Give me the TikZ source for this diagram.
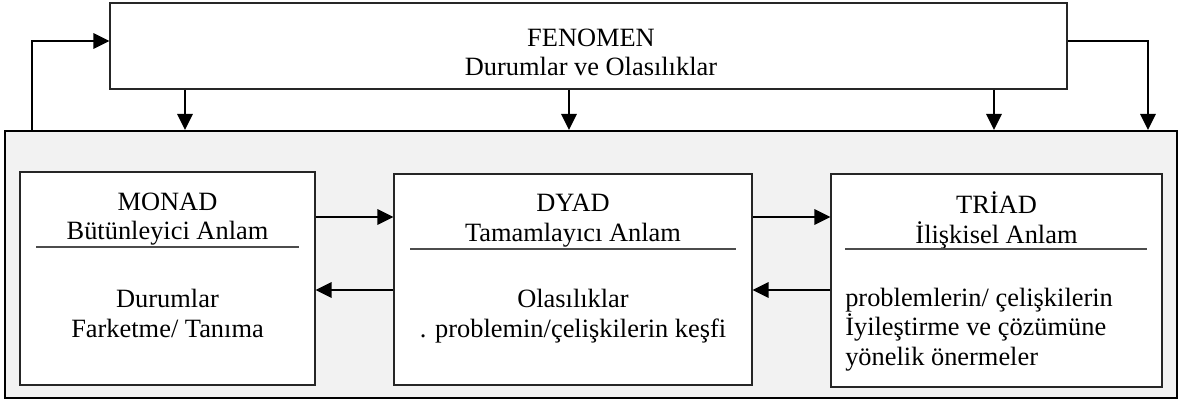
\documentclass[tikz,border=0pt]{standalone}
\usepackage{fontspec}
\setmainfont{Liberation Serif}
\usepackage{tikz}
\usetikzlibrary{arrows.meta,calc,positioning}
\tikzset{%
	outerbox/.style = {draw, line width=1.6pt, fill=panelgray, rectangle, inner sep=0pt},
	block/.style    = {draw=black!85, line width=0.8pt, fill=white, rectangle, inner sep=0pt},
	label/.style    = {inner sep=0pt, align=center, font=\fontsize{19.8}{22}\selectfont},
	seprule/.style  = {draw=black!70, line width=0.8pt}, % Separator
	arrow/.style    = {line width=1.6pt, -{Triangle[length=12pt,width=11.5pt]}},
}
\definecolor{panelgray}{HTML}{F2F2F2}
\begin{document}
\begin{tikzpicture}[x=0.75pt,y=-0.75pt]
	\useasboundingbox (0,0) rectangle (1179,403);
	% boxes
	\node[block, minimum width=717.75pt, minimum height=64.5pt] (fen) at (588.5,46) {};
	\node[outerbox, minimum width=879pt, minimum height=200.25pt] (outer) at (591,264.5) {};
	\node[block, minimum width=221.25pt, minimum height=159.75pt] (monad) at (167.5,278.5) {};
	\node[block, minimum width=268.5pt, minimum height=158.25pt] (dyad) at (573,279.5) {};
	\node[block, minimum width=248.25pt, minimum height=159.75pt] (triad) at (996.5,280.5) {};
	
	% texts
	\node[label] (fentxt) at (591,52.5) {FENOMEN\\Durumlar ve Olasılıklar};
	\node[label] (monadhead) at (167.5,219) {MONAD\\Bütünleyici Anlam};
	\node[label] (monadbody) at (167.5,313.5) {Durumlar\\Farketme/ Tanıma};
	\node[label] (dyadhead) at (573,220.5) {DYAD\\Tamamlayıcı Anlam};
	\node[label] (dyadbody) at (573,316) {Olasılıklar\\. problemin/çelişkilerin keşfi};
	\node[label] (triadhead) at (996.5,220.5) {TRİAD\\İlişkisel Anlam};
	\node[label, align=left, anchor=west] (triadbody) at (845,329.5) {problemlerin/ çelişkilerin\\İyileştirme ve çözümüne\\yönelik önermeler};
	\draw[seprule] (36,247) -- (299,247);
	\draw[seprule] (410,249) -- (736,249);
	\draw[seprule] (845,249) -- (1147,249);
	
	% connectors
	\coordinate (lft) at (32,41);
	\coordinate (rgt) at (1148,41);
	\coordinate (fwd) at (0,217);
	\coordinate (bwd) at (0,290);
	\draw[arrow] (outer.north -| lft) -- (lft) -- (fen.west |- lft);
	\draw[arrow] (fen.east |- rgt) -- (rgt) -- (outer.north -| rgt);
	\foreach \x in {185,569,994}
		\draw[arrow] (fen.south -| \x,0) -- (outer.north -| \x,0);
	\draw[arrow] (monad.east |- fwd) -- (dyad.west |- fwd);
	\draw[arrow] (dyad.east |- fwd) -- (triad.west |- fwd);
	\draw[arrow] (dyad.west |- bwd) -- (monad.east |- bwd);
	\draw[arrow] (triad.west |- bwd) -- (dyad.east |- bwd);
\end{tikzpicture}
\end{document}
